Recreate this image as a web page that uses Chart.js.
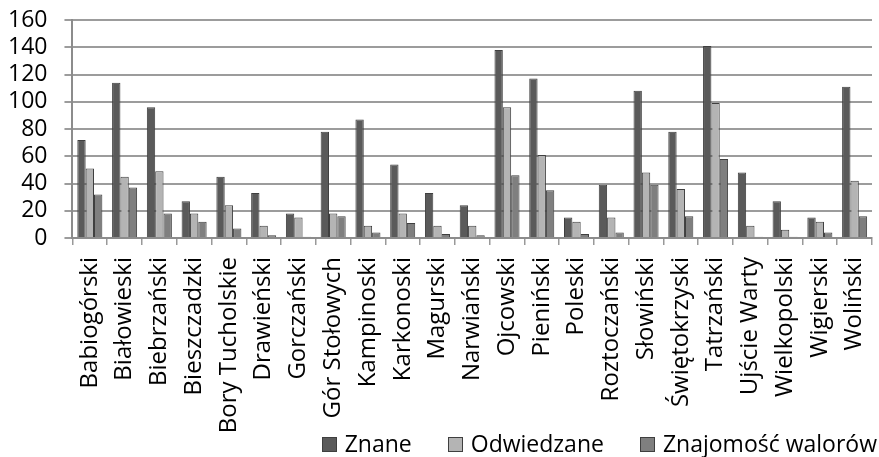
<!DOCTYPE html>
<html>
<head>
<meta charset="utf-8">
<script src="https://cdn.jsdelivr.net/npm/chart.js@4.4.1/dist/chart.umd.min.js"></script>
<style>
  html, body { margin: 0; padding: 0; background: #fff; }
  #wrap { position: relative; width: 879px; height: 457px; }
  #legend {
    position: absolute; right: 2px; top: 432px;
    display: flex; white-space: nowrap;
    font-family: "Open Sans", sans-serif; font-size: 23px; line-height: 22px; color: #000;
  }
  #legend .item { margin-left: 36px; }
  #legend .item:first-child { margin-left: 0; }
  #legend .box {
    display: inline-block; width: 13px; height: 13px;
    border: 1px solid #3f3f3f; margin-right: 8px;
  }
</style>
</head>
<body>
<div id="wrap">
  <canvas id="c" width="879" height="457"></canvas>
  <div id="legend"></div>
</div>
<script>
// parki narodowe — kategorie
var parks = [
    'Babiogórski', 'Białowieski', 'Biebrzański', 'Bieszczadzki', 'Bory Tucholskie',
    'Drawieński', 'Gorczański', 'Gór Stołowych', 'Kampinoski', 'Karkonoski',
    'Magurski', 'Narwiański', 'Ojcowski', 'Pieniński', 'Poleski',
    'Roztoczański', 'Słowiński', 'Świętokrzyski', 'Tatrzański', 'Ujście Warty',
    'Wielkopolski', 'Wigierski', 'Woliński'
];

var znane = [72, 114, 96, 27, 45, 33, 18, 78, 87, 54, 33, 24, 138, 117, 15, 39, 108, 78, 141, 48, 27, 15, 111];
var odwiedzane = [51, 45, 49, 18, 24, 9, 15, 18, 9, 18, 9, 9, 96, 61, 12, 15, 48, 36, 99, 9, 6, 12, 42];
var walory = [32, 37, 18, 12, 7, 2, 1, 16, 4, 11, 3, 2, 46, 35, 3, 4, 39, 16, 58, 1, 1, 4, 16];

var seriesNames = ['Znane', 'Odwiedzane', 'Znajomość walorów'];
var seriesColors = ['#5a5a5a', '#b4b4b4', '#7f7f7f'];

var yTicks = [0, 20, 40, 60, 80, 100, 120, 140, 160];

var FONT = '"Open Sans", sans-serif';
var Y_PAD = 17;

function ds(i, data) {
    return {
        label: seriesNames[i],
        data: data,
        backgroundColor: seriesColors[i],
        borderColor: '#3f3f3f',
        borderWidth: 1,
        categoryPercentage: 0.72,
        barPercentage: 1.0
    };
}

var chart = new Chart(document.getElementById('c').getContext('2d'), {
    type: 'bar',
    data: {
        labels: parks,
        datasets: [ds(0, znane), ds(1, odwiedzane), ds(2, walory)]
    },
    options: {
        responsive: false,
        devicePixelRatio: 1,
        animation: false,
        layout: { padding: { left: 8, right: 7, top: 20, bottom: 0 } },
        scales: {
            x: {
                // etykiety schodzą pod legendę, jak w oryginale
                afterFit: function (axis) {
                    axis.height = 219;
                    axis.paddingLeft = 0;
                    axis.paddingRight = 0;
                },
                grid: {
                    display: true,
                    drawOnChartArea: false,
                    drawTicks: true,
                    tickLength: 7,
                    offset: true,
                    color: '#999',
                    lineWidth: 1.5
                },
                border: { display: true, color: '#8c8c8c', width: 2 },
                ticks: {
                    autoSkip: false,
                    maxRotation: 90,
                    minRotation: 90,
                    padding: 12,
                    color: '#000',
                    font: { family: FONT, size: 24 }
                }
            },
            y: {
                min: 0,
                max: 160,
                afterBuildTicks: function (axis) {
                    axis.ticks = yTicks.map(function (v) { return { value: v }; });
                },
                afterFit: function (axis) {
                    // Chart.js liczy padding etykiet podwójnie
                    axis.width -= Y_PAD;
                    axis.paddingTop = 0;
                    axis.paddingBottom = 0;
                },
                grid: {
                    color: '#9c9c9c',
                    lineWidth: 2,
                    drawTicks: true,
                    tickLength: 8
                },
                border: { display: true, color: '#8c8c8c', width: 2 },
                ticks: {
                    autoSkip: false,
                    padding: Y_PAD,
                    color: '#000',
                    font: { family: FONT, size: 23 }
                }
            }
        },
        plugins: {
            legend: { display: false },
            tooltip: { enabled: false }
        }
    }
});

// legenda jako zwykły tekst HTML, wyrównana do prawej
var legendEl = document.getElementById('legend');
chart.data.datasets.forEach(function (d) {
    var item = document.createElement('span');
    item.className = 'item';
    var box = document.createElement('span');
    box.className = 'box';
    box.style.background = d.backgroundColor;
    item.appendChild(box);
    item.appendChild(document.createTextNode(d.label));
    legendEl.appendChild(item);
});
</script>
</body>
</html>
